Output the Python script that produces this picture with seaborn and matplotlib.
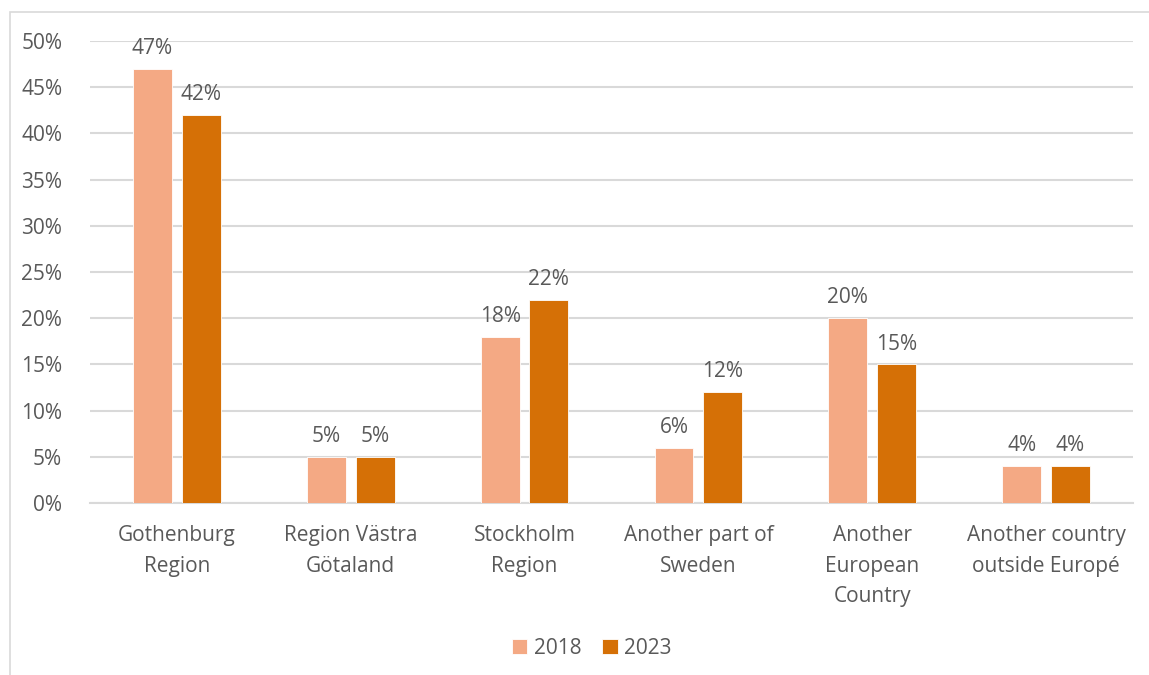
import pandas as pd
import matplotlib.pyplot as plt
import seaborn as sns
from matplotlib.patches import Rectangle

categories = ["Gothenburg\nRegion", "Region Västra\nGötaland", "Stockholm\nRegion",
              "Another part of\nSweden", "Another\nEuropean\nCountry", "Another country\noutside Europé"]
values_2018 = [47, 5, 18, 6, 20, 4]
values_2023 = [42, 5, 22, 12, 15, 4]
years = ["2018", "2023"]
colors = ["#F4A984", "#D57006"]
text_color = "#595959"
grid_color = "#D9D9D9"

df = pd.DataFrame({
    "category": categories * 2,
    "year": [years[0]] * len(categories) + [years[1]] * len(categories),
    "value": values_2018 + values_2023,
})

sns.set_style("white")
plt.rcParams['font.family'] = ['Open Sans', 'DejaVu Sans']
plt.rcParams['font.size'] = 15

fig = plt.figure(figsize=(11.49, 6.75), dpi=100)
ax = fig.add_axes([0.0783, 0.2548, 0.9077, 0.6845])

sns.barplot(data=df, x="category", y="value", hue="year", palette=colors,
            saturation=1, width=0.56, gap=0.2, ax=ax, legend=True, zorder=3,
            edgecolor="white", linewidth=0.6)

for cont in ax.containers:
    ax.bar_label(cont, labels=[f"{v:.0f}%" for v in cont.datavalues],
                 padding=7, color=text_color, fontsize=15)

ax.set_ylim(0, 50)
ax.set_yticks(range(0, 55, 5))
ax.set_yticklabels([f"{t}%" for t in range(0, 55, 5)], color=text_color)
ax.set_xlim(-0.5, len(categories) - 0.5)
ax.tick_params(axis="x", colors=text_color, length=0, pad=16)
ax.tick_params(axis="y", colors=text_color, length=0, pad=20)
for lbl in ax.get_xticklabels():
    lbl.set_linespacing(1.6)
    lbl.set_color(text_color)
ax.set_xlabel("")
ax.set_ylabel("")
ax.yaxis.grid(True, color=grid_color, linewidth=1.5, zorder=0)
for s in ["top", "right", "left"]:
    ax.spines[s].set_visible(False)
ax.spines["bottom"].set_color(grid_color)
ax.spines["bottom"].set_linewidth(1.5)

ax.legend(loc="center", bbox_to_anchor=(0.481, -0.314), bbox_transform=ax.transAxes,
          ncol=2, frameon=False, handlelength=0.75, handleheight=0.75,
          columnspacing=1.0, handletextpad=0.3, labelcolor=text_color, fontsize=15)

fig.patches.append(Rectangle((10 / 1149, -0.05), 1.1, 0.05 + 1 - 12 / 675,
                             transform=fig.transFigure, fill=False,
                             edgecolor=grid_color, linewidth=1.2))

fig.savefig("out.png", dpi=100)
